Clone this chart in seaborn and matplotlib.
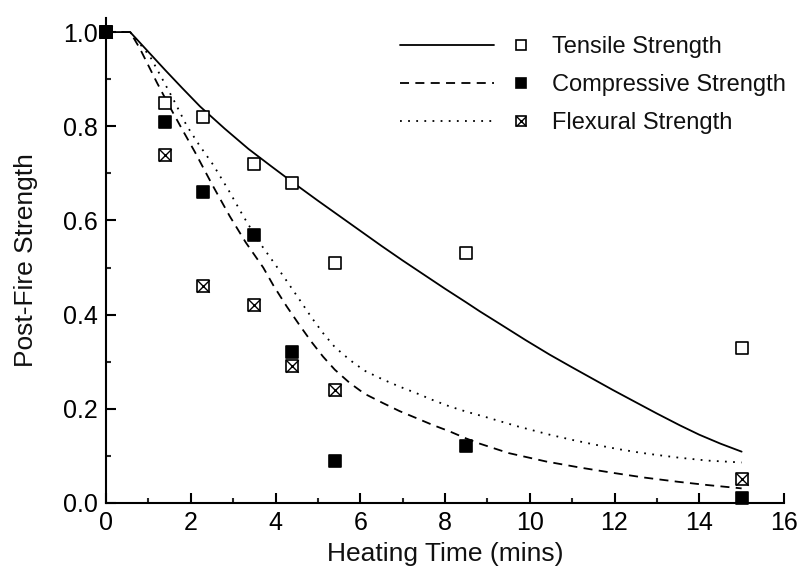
import matplotlib
matplotlib.use("Agg")
import matplotlib.pyplot as plt
import seaborn as sns
import numpy as np
from matplotlib.lines import Line2D
from matplotlib.legend_handler import HandlerBase
from matplotlib.ticker import MultipleLocator, FormatStrFormatter

# ---------------- data ----------------
series_labels = ["Tensile Strength", "Compressive Strength", "Flexural Strength"]

# measured points
pt_time = [0, 1.4, 2.3, 3.5, 4.4, 5.4, 8.5, 15]
tensile_pts = [1.0, 0.85, 0.82, 0.72, 0.68, 0.51, 0.53, 0.33]
compressive_pts = [1.0, 0.81, 0.66, 0.57, 0.32, 0.09, 0.12, 0.01]
flex_time = [0, 1.4, 2.3, 3.5, 4.4, 5.4, 15]
flexural_pts = [1.0, 0.74, 0.46, 0.42, 0.29, 0.24, 0.05]

# model curves
tensile_cx = [0, 0.57, 1.0, 1.4, 1.8, 2.22, 2.8, 3.36, 3.9, 4.42, 5.0, 5.5, 6.0,
              6.5, 7.0, 7.5, 8.0, 8.5, 8.82, 9.3, 9.9, 10.47, 11.0, 11.5, 11.96,
              12.5, 13.0, 13.54, 14.0, 14.5, 15.0]
tensile_cy = [1.0, 1.0, 0.958, 0.919, 0.881, 0.842, 0.795, 0.752, 0.715, 0.68,
              0.642, 0.61, 0.578, 0.546, 0.515, 0.485, 0.455, 0.426, 0.407, 0.38,
              0.346, 0.315, 0.288, 0.263, 0.24, 0.214, 0.19, 0.165, 0.145, 0.126,
              0.109]
compressive_cx = [0, 0.57, 0.8, 1.2, 1.5, 1.8, 2.1, 2.5, 2.92, 3.3, 3.71, 3.95,
                  4.26, 4.58, 4.85, 5.12, 5.4, 5.75, 6.1, 6.54, 6.93, 7.33, 7.7,
                  8.11, 8.5, 8.82, 9.5, 10.39, 11.2, 11.96, 12.7, 13.5, 14.2, 15.0]
compressive_cy = [1.0, 1.0, 0.965, 0.893, 0.842, 0.793, 0.745, 0.677, 0.609,
                  0.553, 0.5, 0.462, 0.418, 0.376, 0.342, 0.311, 0.283, 0.255,
                  0.232, 0.212, 0.195, 0.18, 0.166, 0.152, 0.137, 0.126, 0.106,
                  0.088, 0.075, 0.064, 0.054, 0.045, 0.038, 0.031]
flexural_cx = [0, 0.57, 0.8, 1.04, 1.35, 1.63, 1.9, 2.2, 2.53, 2.9, 3.24, 3.6,
               4.02, 4.26, 4.58, 4.85, 5.12, 5.4, 5.75, 6.1, 6.54, 6.93, 7.33,
               7.7, 8.11, 8.5, 8.98, 9.7, 10.47, 11.0, 11.53, 12.05, 12.59, 13.0,
               13.54, 14.2, 15.0]
flexural_cy = [1.0, 1.0, 0.975, 0.948, 0.897, 0.85, 0.802, 0.76, 0.718, 0.663,
               0.609, 0.556, 0.503, 0.472, 0.43, 0.394, 0.361, 0.331, 0.304,
               0.281, 0.262, 0.247, 0.233, 0.219, 0.205, 0.194, 0.182, 0.163,
               0.145, 0.134, 0.124, 0.115, 0.107, 0.102, 0.096, 0.09, 0.086]

x_ticks = [0, 2, 4, 6, 8, 10, 12, 14, 16]
y_ticks = [0.0, 0.2, 0.4, 0.6, 0.8, 1.0]

# ---------------- style ----------------
sns.set_theme(style="ticks")
plt.rcParams["font.family"] = ["Liberation Sans", "DejaVu Sans"]
plt.rcParams["axes.linewidth"] = 1.5

fig = plt.figure(figsize=(8, 5.79), dpi=100)
ax = fig.add_axes([0.1325, 0.1313, 0.8475, 0.8377])

LW = 1.3
DASH = (5, 3.5)
DOT = (1, 3.5)

sns.lineplot(x=tensile_cx, y=tensile_cy, ax=ax, color="black", lw=LW,
             sort=False, estimator=None)
sns.lineplot(x=compressive_cx, y=compressive_cy, ax=ax, color="black", lw=LW,
             sort=False, estimator=None)
ax.lines[-1].set_dashes(DASH)
sns.lineplot(x=flexural_cx, y=flexural_cy, ax=ax, color="black", lw=LW,
             sort=False, estimator=None)
ax.lines[-1].set_dashes(DOT)

MS = 80
sns.scatterplot(x=flex_time, y=flexural_pts, ax=ax, marker="s", s=MS,
                color="white", edgecolor="black", linewidth=1.2, zorder=3, clip_on=False)
sns.scatterplot(x=flex_time, y=flexural_pts, ax=ax, marker="x", s=MS,
                color="black", linewidth=1.0, zorder=4, clip_on=False)
sns.scatterplot(x=pt_time, y=tensile_pts, ax=ax, marker="s", s=MS,
                color="white", edgecolor="black", linewidth=1.2, zorder=3, clip_on=False)
sns.scatterplot(x=pt_time, y=compressive_pts, ax=ax, marker="s", s=MS,
                color="black", edgecolor="black", linewidth=1.2, zorder=5, clip_on=False)

ax.set_xlim(0, 16)
ax.set_ylim(0, 1.03)
ax.set_xticks(x_ticks)
ax.set_yticks(y_ticks)
ax.xaxis.set_minor_locator(MultipleLocator(1))
ax.yaxis.set_minor_locator(MultipleLocator(0.1))
ax.yaxis.set_major_formatter(FormatStrFormatter("%.1f"))
ax.xaxis.set_major_formatter(FormatStrFormatter("%d"))
ax.tick_params(which="major", direction="in", length=7, width=1.5,
               labelsize=18, pad=6, colors="black")
ax.tick_params(which="minor", direction="in", length=3.5, width=1.5)
for side in ["top", "right"]:
    ax.spines[side].set_visible(False)
for side in ["left", "bottom"]:
    ax.spines[side].set_color("black")

ax.set_xlabel("Heating Time (mins)", fontsize=19, color="#111111", labelpad=5)
ax.set_ylabel("Post-Fire Strength", fontsize=19, color="#111111", labelpad=18)


# ---------------- legend ----------------
class LineMarkerHandler(HandlerBase):
    def create_artists(self, legend, orig_handle, xdescent, ydescent, width,
                       height, fontsize, trans):
        line, marks = orig_handle
        y = height / 2.0 - ydescent
        x0 = -xdescent
        l = Line2D([x0, x0 + width * 0.72], [y, y])
        l.update_from(line)
        l.set_transform(trans)
        arts = [l]
        for m in marks:
            mk = Line2D([x0 + width * 0.93], [y])
            mk.update_from(m)
            mk.set_transform(trans)
            arts.append(mk)
        return arts


lT = Line2D([], [], color="black", lw=LW)
lC = Line2D([], [], color="black", lw=LW)
lC.set_dashes(DASH)
lF = Line2D([], [], color="black", lw=LW)
lF.set_dashes(DOT)
msz = 7.5
mT = Line2D([], [], ls="none", marker="s", markersize=msz, markerfacecolor="white",
            markeredgecolor="black", markeredgewidth=1.2)
mC = Line2D([], [], ls="none", marker="s", markersize=msz, markerfacecolor="black",
            markeredgecolor="black", markeredgewidth=1.2)
mF1 = Line2D([], [], ls="none", marker="s", markersize=msz, markerfacecolor="white",
             markeredgecolor="black", markeredgewidth=1.2)
mF2 = Line2D([], [], ls="none", marker="x", markersize=msz, markeredgecolor="black",
             markeredgewidth=1.0)

leg = ax.legend(handles=[(lT, [mT]), (lC, [mC]), (lF, [mF1, mF2])],
                labels=series_labels,
                handler_map={tuple: LineMarkerHandler()},
                frameon=False, fontsize=17, handlelength=5.5, handletextpad=0.95,
                labelspacing=0.68, borderpad=0, borderaxespad=0,
                loc="upper left", bbox_to_anchor=(400 / 800, 1 - 36 / 579),
                bbox_transform=fig.transFigure)
for t in leg.get_texts():
    t.set_color("#111111")

fig.savefig("out.png", dpi=100)
